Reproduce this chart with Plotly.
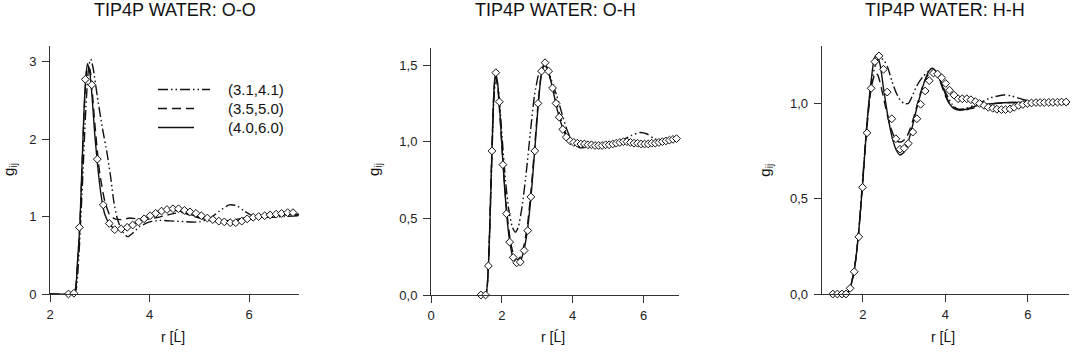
import plotly.graph_objects as go

# ---------------- data ----------------
PANEL_TITLES = ["TIP4P WATER: O-O", "TIP4P WATER: O-H", "TIP4P WATER: H-H"]
SERIES_NAMES = ["(3.1,4.1)", "(3.5,5.0)", "(4.0,6.0)"]
X_TITLE = "r [Ĺ]"
Y_TITLE = "g<sub>ij</sub>"

# O-O
oo_r_a = [2.0, 2.45, 2.52, 2.58, 2.65, 2.72, 2.78, 2.82, 2.87, 2.95, 3.05, 3.15, 3.22, 3.28, 3.34, 3.42, 3.5, 3.56, 3.65, 3.8, 4.0, 4.2, 4.5, 4.8, 5.0, 5.2, 5.4, 5.6, 5.75, 5.9, 6.1, 6.4, 6.7, 7.0]
oo_g_a = [0, 0, 0.05, 0.5, 1.4, 2.4, 2.95, 3.03, 2.9, 2.55, 2.15, 1.8, 1.5, 1.2, 1.0, 0.85, 0.77, 0.74, 0.78, 0.87, 0.93, 0.95, 0.94, 0.93, 0.93, 0.97, 1.07, 1.15, 1.14, 1.07, 1.0, 0.99, 1.0, 1.01]
oo_r_b = [2.0, 2.45, 2.5, 2.55, 2.6, 2.65, 2.7, 2.75, 2.8, 2.85, 2.9, 2.95, 3.0, 3.1, 3.2, 3.3, 3.45, 3.6, 3.75, 3.9, 4.1, 4.3, 4.5, 4.65, 4.8, 5.0, 5.2, 5.4, 5.6, 5.8, 6.0, 6.3, 6.6, 7.0]
oo_g_b = [0, 0, 0.03, 0.38, 0.88, 1.75, 2.55, 2.93, 2.9, 2.6, 2.2, 1.85, 1.55, 1.2, 1.02, 0.97, 0.96, 0.98, 0.97, 0.96, 0.98, 1.01, 1.04, 1.05, 1.02, 0.98, 0.95, 0.94, 0.95, 0.97, 0.99, 1.01, 1.02, 1.02]
oo_r_c = [2.0, 2.4, 2.5, 2.55, 2.6, 2.65, 2.7, 2.75, 2.8, 2.85, 2.9, 2.95, 3.0, 3.05, 3.1, 3.2, 3.3, 3.4, 3.5, 3.6, 3.8, 4.0, 4.2, 4.4, 4.6, 4.8, 5.0, 5.2, 5.4, 5.6, 5.8, 6.0, 6.2, 6.5, 6.8, 7.0]
oo_g_c = [0, 0, 0.03, 0.4, 0.9, 1.8, 2.6, 2.97, 2.85, 2.5, 2.05, 1.7, 1.4, 1.18, 1.03, 0.9, 0.84, 0.83, 0.85, 0.88, 0.94, 1.0, 1.05, 1.08, 1.07, 1.03, 0.99, 0.95, 0.93, 0.93, 0.95, 0.98, 1.0, 1.02, 1.03, 1.03]
oo_r_exp = [2.37, 2.48, 2.59, 2.71, 2.84, 2.95, 3.07, 3.19, 3.30, 3.43, 3.55, 3.66, 3.78, 3.89, 4.01, 4.12, 4.24, 4.35, 4.47, 4.58, 4.70, 4.81, 4.93, 5.04, 5.16, 5.27, 5.39, 5.50, 5.62, 5.73, 5.85, 5.96, 6.08, 6.19, 6.31, 6.42, 6.54, 6.65, 6.77, 6.88]
oo_g_exp = [0, 0.01, 0.86, 2.77, 2.70, 1.74, 1.15, 0.91, 0.83, 0.84, 0.86, 0.89, 0.93, 0.97, 1.01, 1.04, 1.07, 1.09, 1.10, 1.10, 1.08, 1.06, 1.04, 1.01, 0.98, 0.96, 0.94, 0.93, 0.92, 0.92, 0.94, 0.97, 0.99, 1.0, 1.01, 1.02, 1.03, 1.04, 1.05, 1.05]

# O-H
oh_r_a = [1.4, 1.55, 1.62, 1.7, 1.77, 1.83, 1.9, 2.0, 2.1, 2.2, 2.3, 2.38, 2.46, 2.56, 2.68, 2.8, 2.92, 3.05, 3.18, 3.28, 3.4, 3.55, 3.7, 3.85, 4.0, 4.2, 4.5, 4.8, 5.1, 5.4, 5.65, 5.9, 6.1, 6.3, 6.6, 7.0]
oh_g_a = [0, 0.01, 0.2, 0.75, 1.25, 1.42, 1.35, 1.05, 0.75, 0.55, 0.44, 0.41, 0.44, 0.56, 0.78, 1.05, 1.3, 1.45, 1.5, 1.48, 1.4, 1.3, 1.18, 1.07, 1.0, 0.96, 0.97, 0.98, 0.99, 1.01, 1.04, 1.06, 1.05, 1.02, 1.0, 1.01]
oh_r_b = [1.4, 1.55, 1.62, 1.7, 1.77, 1.82, 1.88, 1.95, 2.05, 2.15, 2.25, 2.35, 2.43, 2.53, 2.63, 2.73, 2.83, 2.93, 3.03, 3.12, 3.2, 3.3, 3.43, 3.55, 3.7, 3.85, 4.0, 4.3, 4.7, 5.2, 5.6, 6.0, 6.4, 7.0]
oh_g_b = [0, 0.01, 0.2, 0.8, 1.3, 1.43, 1.36, 1.15, 0.8, 0.52, 0.34, 0.25, 0.23, 0.25, 0.33, 0.47, 0.7, 0.98, 1.27, 1.45, 1.5, 1.46, 1.36, 1.25, 1.12, 1.03, 0.99, 0.97, 0.975, 0.99, 1.0, 1.0, 1.0, 1.01]
oh_r_c = [1.4, 1.54, 1.62, 1.72, 1.78, 1.82, 1.87, 1.93, 2.03, 2.13, 2.22, 2.32, 2.42, 2.52, 2.63, 2.73, 2.83, 2.93, 3.03, 3.12, 3.2, 3.3, 3.43, 3.55, 3.7, 3.85, 4.0, 4.3, 4.7, 5.2, 5.6, 6.0, 6.4, 7.0]
oh_g_c = [0, 0.0, 0.19, 0.94, 1.35, 1.45, 1.4, 1.25, 0.86, 0.54, 0.35, 0.24, 0.21, 0.22, 0.3, 0.44, 0.66, 0.95, 1.25, 1.45, 1.51, 1.47, 1.35, 1.22, 1.1, 1.02, 0.99, 0.975, 0.975, 0.985, 0.995, 0.99, 1.0, 1.01]
oh_r_exp = [1.41, 1.54, 1.62, 1.72, 1.83, 1.93, 2.03, 2.13, 2.22, 2.32, 2.42, 2.52, 2.63, 2.73, 2.82, 2.93, 3.02, 3.12, 3.22, 3.32, 3.43, 3.53, 3.62, 3.72, 3.82, 3.93,
            4.03, 4.13, 4.23, 4.33, 4.43, 4.53, 4.63, 4.73, 4.83, 4.93, 5.03, 5.13, 5.23, 5.33, 5.43, 5.53, 5.63, 5.73, 5.83, 5.93, 6.03, 6.13, 6.23, 6.33, 6.43, 6.53, 6.63, 6.73, 6.83, 6.93]
oh_g_exp = [0, 0, 0.19, 0.94, 1.45, 1.26, 0.85, 0.53, 0.345, 0.245, 0.21, 0.215, 0.29, 0.42, 0.64, 0.94, 1.25, 1.46, 1.515, 1.46, 1.35, 1.25, 1.16, 1.08, 1.03, 1.005,
            0.995, 0.99, 0.985, 0.985, 0.98, 0.98, 0.975, 0.975, 0.975, 0.98, 0.98, 0.985, 0.99, 0.995, 1.0, 1.0, 0.995, 0.99, 0.99, 0.985, 0.985, 0.985, 0.99, 0.99, 0.995, 1.0, 1.005, 1.01, 1.015, 1.02]

# H-H
hh_r_a = [1.3, 1.6, 1.7, 1.8, 1.9, 2.0, 2.1, 2.2, 2.3, 2.4, 2.5, 2.6, 2.7, 2.8, 2.9, 3.0, 3.1, 3.2, 3.3, 3.45, 3.6, 3.72, 3.85, 4.0, 4.15, 4.3, 4.5, 4.8, 5.1, 5.4, 5.6, 5.9, 6.2, 6.5, 7.0]
hh_g_a = [0, 0, 0.04, 0.14, 0.34, 0.62, 0.9, 1.1, 1.2, 1.24, 1.23, 1.19, 1.12, 1.06, 1.02, 1.0, 1.0, 1.04, 1.09, 1.14, 1.17, 1.17, 1.13, 1.06, 1.0, 0.97, 0.975, 1.0, 1.03, 1.045, 1.04, 1.02, 1.005, 1.0, 1.0]
hh_r_b = [1.3, 1.6, 1.7, 1.8, 1.9, 2.0, 2.1, 2.2, 2.3, 2.36, 2.45, 2.55, 2.65, 2.75, 2.85, 2.95, 3.05, 3.15, 3.25, 3.35, 3.45, 3.55, 3.67, 3.8, 3.9, 4.0, 4.1, 4.25, 4.45, 4.65, 4.9, 5.2, 5.6, 6.0, 6.5, 7.0]
hh_g_b = [0, 0, 0.04, 0.14, 0.33, 0.6, 0.88, 1.08, 1.16, 1.15, 1.08, 0.98, 0.89, 0.83, 0.8, 0.8, 0.82, 0.87, 0.94, 1.02, 1.09, 1.14, 1.17, 1.15, 1.1, 1.04, 1.0, 0.975, 0.965, 0.975, 0.99, 1.0, 1.005, 1.005, 1.0, 1.0]
hh_r_c = [1.3, 1.6, 1.7, 1.8, 1.9, 2.0, 2.1, 2.2, 2.28, 2.34, 2.42, 2.5, 2.6, 2.7, 2.8, 2.9, 3.0, 3.1, 3.2, 3.3, 3.4, 3.5, 3.6, 3.68, 3.8, 3.9, 4.0, 4.1, 4.2, 4.35, 4.5, 4.8, 5.2, 5.6, 6.0, 6.5, 7.0]
hh_g_c = [0, 0, 0.04, 0.14, 0.33, 0.6, 0.9, 1.12, 1.24, 1.255, 1.2, 1.08, 0.94, 0.83, 0.76, 0.73, 0.745, 0.8, 0.88, 0.97, 1.05, 1.12, 1.17, 1.185, 1.16, 1.11, 1.05, 1.0, 0.975, 0.965, 0.97, 0.99, 1.0, 1.005, 1.005, 1.0, 1.0]
hh_r_exp = [1.27, 1.38, 1.49, 1.59, 1.69, 1.79, 1.90, 1.99, 2.10, 2.20, 2.29, 2.39, 2.50, 2.59, 2.70, 2.80, 2.90, 3.00, 3.10, 3.21, 3.31, 3.40, 3.51, 3.61, 3.71, 3.81, 3.91, 4.01, 4.10, 4.21, 4.31,
            4.41, 4.52, 4.62, 4.73, 4.83, 4.94, 5.04, 5.15, 5.25, 5.36, 5.46, 5.57, 5.67, 5.78, 5.88, 5.99, 6.09, 6.20, 6.30, 6.40, 6.51, 6.61, 6.72, 6.82, 6.93]
hh_g_exp = [0, 0, 0, 0.0, 0.03, 0.117, 0.30, 0.56, 0.846, 1.08, 1.22, 1.25, 1.18, 1.06, 0.92, 0.815, 0.76, 0.765, 0.79, 0.85, 0.92, 0.996, 1.066, 1.12, 1.16, 1.155, 1.135, 1.105, 1.07, 1.044, 1.025,
            1.025, 1.025, 1.02, 1.01, 1.0, 0.99, 0.98, 0.975, 0.97, 0.968, 0.968, 0.972, 0.98, 0.99, 0.995, 1.0, 1.003, 1.005, 1.005, 1.005, 1.006, 1.006, 1.007, 1.008, 1.008]

OO_XTICKS, OO_XTEXT = [2, 4, 6], ["2", "4", "6"]
OO_YTICKS, OO_YTEXT = [0, 1, 2, 3], ["0", "1", "2", "3"]
OH_XTICKS, OH_XTEXT = [0, 2, 4, 6], ["0", "2", "4", "6"]
OH_YTICKS, OH_YTEXT = [0, 0.5, 1.0, 1.5], ["0,0", "0,5", "1,0", "1,5"]
HH_XTICKS, HH_XTEXT = [2, 4, 6], ["2", "4", "6"]
HH_YTICKS, HH_YTEXT = [0, 0.5, 1.0], ["0,0", "0,5", "1,0"]

# ---------------- figure ----------------
W, H = 1074, 353
FONT = "Liberation Sans, Arial, sans-serif"
INK = "#111111"
AX = "#333333"
DASHES = ["10px,3px,1.5px,3px,1.5px,3px", "9px,5px", "solid"]

panels = [
    dict(lines=[(oo_r_a, oo_g_a), (oo_r_b, oo_g_b), (oo_r_c, oo_g_c)], exp=(oo_r_exp, oo_g_exp),
         xd=(50, 299), yd=(46, 294), xr=[2, 7], yr=[0, 3.2],
         xt=(OO_XTICKS, OO_XTEXT), yt=(OO_YTICKS, OO_YTEXT)),
    dict(lines=[(oh_r_a, oh_g_a), (oh_r_b, oh_g_b), (oh_r_c, oh_g_c)], exp=(oh_r_exp, oh_g_exp),
         xd=(431, 679), yd=(48, 295), xr=[0, 7], yr=[0, 1.611],
         xt=(OH_XTICKS, OH_XTEXT), yt=(OH_YTICKS, OH_YTEXT)),
    dict(lines=[(hh_r_a, hh_g_a), (hh_r_b, hh_g_b), (hh_r_c, hh_g_c)], exp=(hh_r_exp, hh_g_exp),
         xd=(821.7, 1069), yd=(46, 294), xr=[1, 7], yr=[0, 1.302],
         xt=(HH_XTICKS, HH_XTEXT), yt=(HH_YTICKS, HH_YTEXT)),
]

fig = go.Figure()
annotations = []
shapes = []
for i, p in enumerate(panels):
    sfx = "" if i == 0 else str(i + 1)
    xa, ya = "x" + sfx, "y" + sfx
    for j, (rx, gy) in enumerate(p["lines"]):
        fig.add_trace(go.Scatter(
            x=rx, y=gy, mode="lines", xaxis=xa, yaxis=ya,
            name=SERIES_NAMES[j], showlegend=False,
            line=dict(color=INK, width=1.4, dash=DASHES[j], shape="spline", smoothing=0.6),
            cliponaxis=False,
        ))
    fig.add_trace(go.Scatter(
        x=p["exp"][0], y=p["exp"][1], mode="markers", xaxis=xa, yaxis=ya, showlegend=False,
        marker=dict(symbol="diamond", size=6, color="white", line=dict(color=INK, width=1)),
        cliponaxis=False,
    ))
    axcommon = dict(showgrid=False, zeroline=False, showline=True, linecolor=AX, linewidth=1,
                    ticks="outside", ticklen=7, tickcolor=AX, tickwidth=1, automargin=False,
                    tickfont=dict(family=FONT, size=13, color="#222"))
    fig.layout["xaxis" + sfx] = dict(domain=[p["xd"][0] / W, p["xd"][1] / W], range=p["xr"],
                                     anchor=ya, tickvals=p["xt"][0], ticktext=p["xt"][1],
                                     ticklabelstandoff=1, **axcommon)
    fig.layout["yaxis" + sfx] = dict(domain=[(H - p["yd"][1]) / H, (H - p["yd"][0]) / H], range=p["yr"],
                                     anchor=xa, tickvals=p["yt"][0], ticktext=p["yt"][1],
                                     ticklabelstandoff=3, **axcommon)
    xc = (p["xd"][0] + p["xd"][1]) / 2 / W
    annotations.append(dict(text=PANEL_TITLES[i], x=xc, y=(H - 10) / H, xref="paper", yref="paper",
                            showarrow=False, xanchor="center", yanchor="middle",
                            font=dict(family=FONT, size=18, color="#111")))
    annotations.append(dict(text=X_TITLE, x=xc - 2 / W, y=(H - 337) / H, xref="paper", yref="paper",
                            showarrow=False, xanchor="center", yanchor="middle",
                            font=dict(family=FONT, size=14, color="#111")))
    ylab_x = [10, 375, 765.7][i]
    annotations.append(dict(text=Y_TITLE, x=ylab_x / W, y=(H - 170) / H, xref="paper", yref="paper",
                            showarrow=False, xanchor="center", yanchor="middle", textangle=-90,
                            font=dict(family=FONT, size=15, color="#111")))

# legend drawn in panel 1 (line samples + labels)
LEG_ROWS_Y = [89.5, 108.5, 127.5]
LEG_LINE_X = [(158, 210), (158, 194), (158, 194)]
for j in range(3):
    yy = (H - LEG_ROWS_Y[j]) / H
    shapes.append(dict(type="line", xref="paper", yref="paper",
                       x0=LEG_LINE_X[j][0] / W, x1=LEG_LINE_X[j][1] / W, y0=yy, y1=yy,
                       line=dict(color=INK, width=1.4, dash=DASHES[j])))
    annotations.append(dict(text=SERIES_NAMES[j], x=226 / W, y=yy, xref="paper", yref="paper",
                            showarrow=False, xanchor="left", yanchor="middle",
                            font=dict(family=FONT, size=15, color="#111")))

fig.update_layout(
    width=W, height=H, autosize=False,
    margin=dict(l=0, r=0, t=0, b=0, autoexpand=False),
    paper_bgcolor="white", plot_bgcolor="white",
    annotations=annotations, shapes=shapes,
    showlegend=False,
)

fig.write_html("out.html", config={"displayModeBar": False},
               post_script="document.body.style.margin='0';")
